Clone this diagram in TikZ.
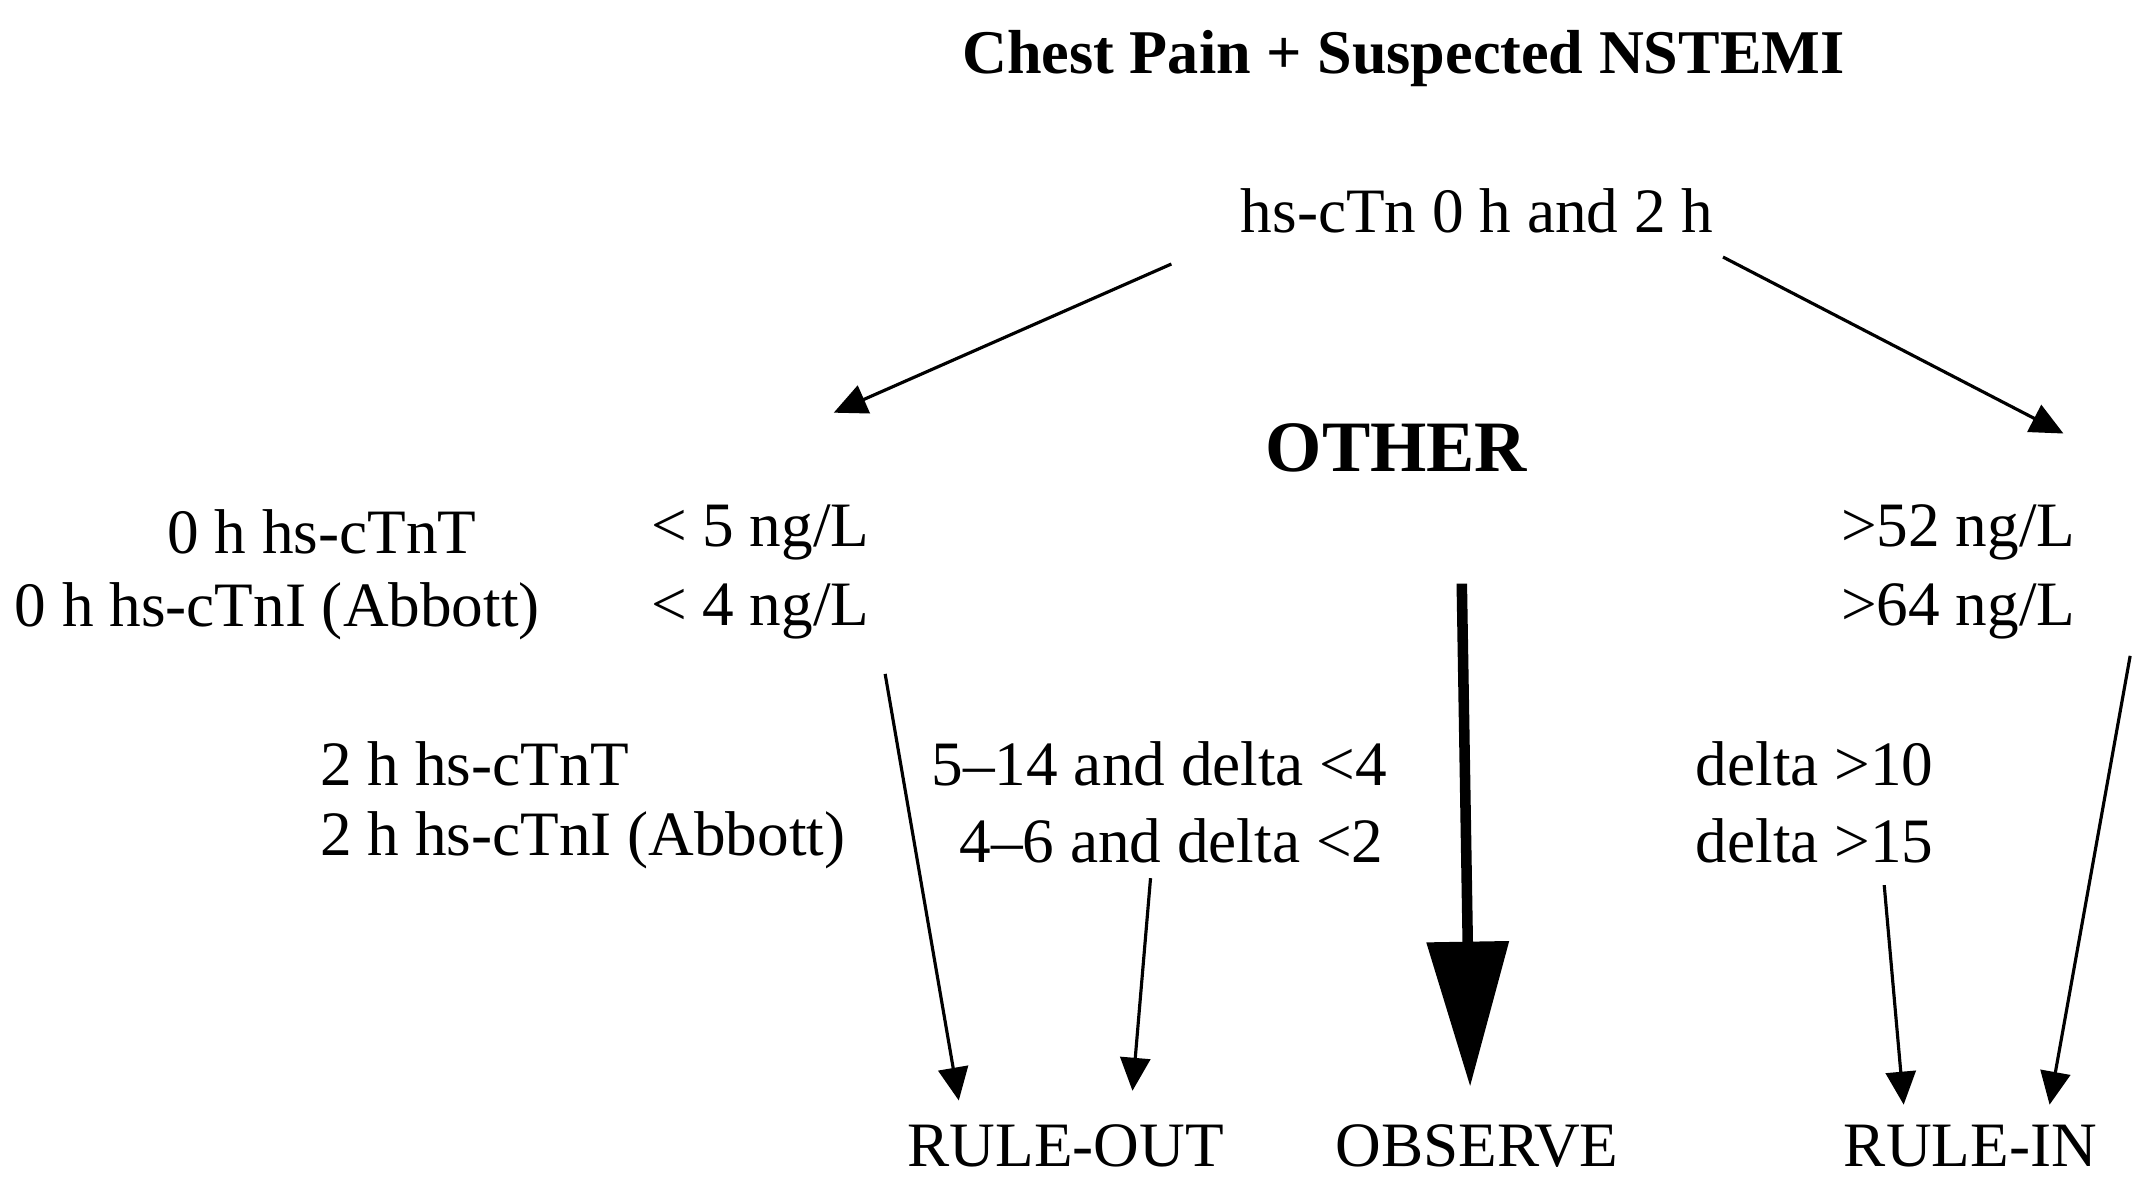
\documentclass[tikz,border=0pt]{standalone}
\usepackage{fontspec}
\setmainfont{Liberation Serif}
\usetikzlibrary{arrows.meta}
\begin{document}
\begin{tikzpicture}[x=0.013896cm,y=-0.013896cm,
 t/.style={inner sep=0pt,font=\fontsize{18}{20}\selectfont},
 ar/.style={line width=0.9pt,-{Triangle[length=0.33cm,width=0.3cm]}},
 big/.style={line width=3pt,-{Triangle[length=1.45cm,width=0.8cm]}}]
\useasboundingbox (0,0) rectangle (1548,854);
\node[t,font=\fontsize{17.7}{19}\selectfont\bfseries] (title) at (1010,42) {Chest Pain + Suspected NSTEMI};
\node[t] (tn) at (1063,152) {hs-cTn 0 h and 2 h};
\node[t,font=\fontsize{20.6}{23}\selectfont\bfseries] (other) at (1005,322) {OTHER};
\node[t,anchor=west] (l1) at (120,383) {0 h hs-cTnT};
\node[t,anchor=west] (l2) at (10,440) {0 h hs-cTnI (Abbott)};
\node[t,anchor=west] (v1) at (468,383) {< 5 ng/L};
\node[t,anchor=west] (v2) at (468,440) {< 4 ng/L};
\node[t,anchor=east] (r1) at (1494,383) {>52 ng/L};
\node[t,anchor=east] (r2) at (1494,440) {>64 ng/L};
\node[t,anchor=west] (m1) at (230,550) {2 h hs-cTnT};
\node[t,anchor=west] (m2) at (230,605) {2 h hs-cTnI (Abbott)};
\node[t,anchor=west] (d1) at (670,550) {5–14 and delta <4};
\node[t,anchor=west] (d2) at (690,605) {4–6 and delta <2};
\node[t,anchor=west] (e1) at (1220,550) {delta >10};
\node[t,anchor=west] (e2) at (1220,605) {delta >15};
\node[t] (ro) at (767,825) {RULE-OUT};
\node[t] (ob) at (1063,825) {OBSERVE};
\node[t] (ri) at (1418,825) {RULE-IN};
\coordinate (a1) at (843,190); \coordinate (b1) at (600,297);
\coordinate (a2) at (1240,185); \coordinate (b2) at (1485,312);
\coordinate (a3) at (637,485); \coordinate (b3) at (690,792);
\coordinate (a4) at (828,632); \coordinate (b4) at (815,785);
\coordinate (a5) at (1052,420); \coordinate (b5) at (1058,782);
\coordinate (a6) at (1356,637); \coordinate (b6) at (1370,795);
\coordinate (a7) at (1533,472); \coordinate (b7) at (1475,795);
\draw[ar] (a1) -- (b1);
\draw[ar] (a2) -- (b2);
\draw[ar] (a3) -- (b3);
\draw[ar] (a4) -- (b4);
\draw[big] (a5) -- (b5);
\draw[ar] (a6) -- (b6);
\draw[ar] (a7) -- (b7);
\end{tikzpicture}
\end{document}
